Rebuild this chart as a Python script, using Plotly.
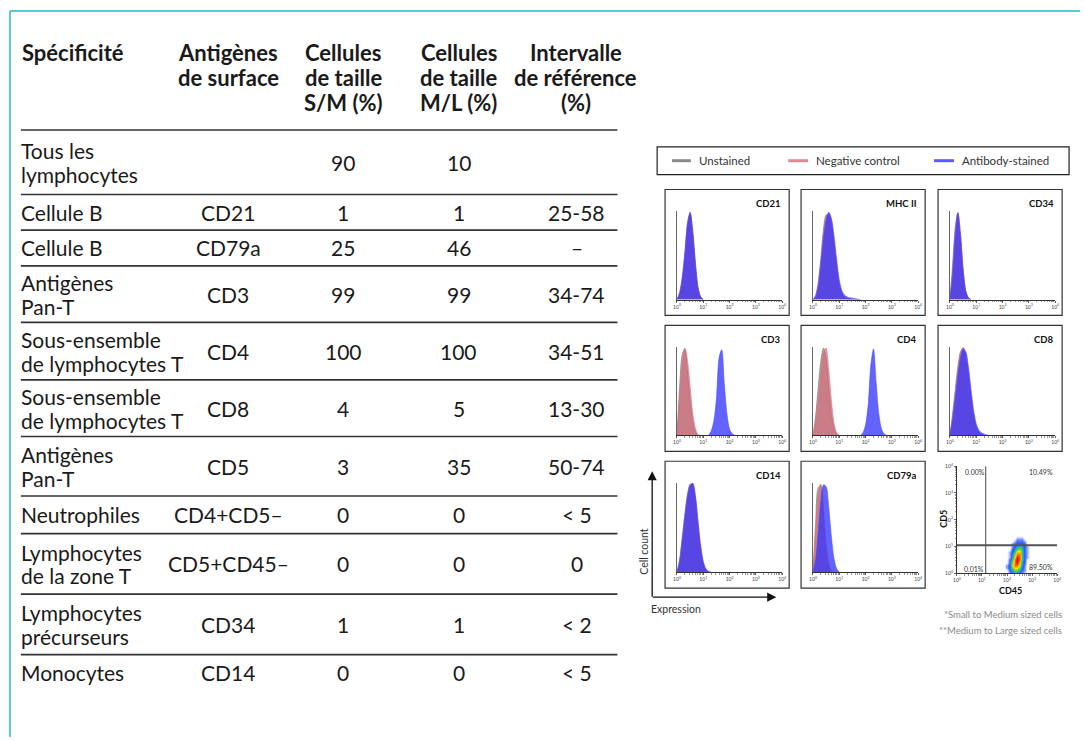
import math
import plotly.graph_objects as go

W, H = 1084, 740
FONT = "Lato"

# ---------------- table data ----------------
HEADERS = [["Spécificité"], ["Antigènes", "de surface"], ["Cellules", "de taille", "S/M (%)"],
           ["Cellules", "de taille", "M/L (%)"], ["Intervalle", "de référence", "(%)"]]
SPECIFICITE = [["Tous les", "lymphocytes"], ["Cellule B"], ["Cellule B"], ["Antigènes", "Pan-T"],
               ["Sous-ensemble", "de lymphocytes T"], ["Sous-ensemble", "de lymphocytes T"],
               ["Antigènes", "Pan-T"], ["Neutrophiles"], ["Lymphocytes", "de la zone T"],
               ["Lymphocytes", "précurseurs"], ["Monocytes"]]
ANTIGENES = ["", "CD21", "CD79a", "CD3", "CD4", "CD8", "CD5", "CD4+CD5–", "CD5+CD45–", "CD34", "CD14"]
SM_PCT = ["90", "1", "25", "99", "100", "4", "3", "0", "0", "1", "0"]
ML_PCT = ["10", "1", "46", "99", "100", "5", "35", "0", "0", "1", "0"]
REF_RANGE = ["", "25-58", "–", "34-74", "34-51", "13-30", "50-74", "< 5", "0", "< 2", "< 5"]

# ---------------- histogram data (x = log10 expression, y = relative count) ----------------
CD21_X = [0.0, 0.1, 0.2, 0.3, 0.4, 0.5, 0.6, 0.7, 0.8, 0.9, 1.0]
CD21_UNST = [0, 6, 20, 48, 82, 97, 78, 42, 14, 3, 0]
CD21_NEG = [0, 9, 26, 55, 88, 98, 72, 38, 12, 2, 0]
CD21_AB = [0, 7, 24, 52, 86, 99, 76, 40, 13, 3, 0]

MHC_X = [0.0, 0.1, 0.2, 0.3, 0.4, 0.5, 0.6, 0.7, 0.8, 0.9, 1.0, 1.1, 1.2, 1.3, 1.4, 1.5, 1.6, 1.7, 1.8]
MHC_UNST = [0, 5, 20, 48, 80, 96, 95, 82, 58, 32, 14, 5, 2, 1, 0, 0, 0, 0, 0]
MHC_NEG = [0, 4, 17, 43, 74, 93, 98, 88, 66, 40, 18, 7, 3, 1, 0.5, 0, 0, 0, 0]
MHC_AB = [0, 3, 15, 40, 70, 90, 99, 92, 72, 45, 22, 10, 5, 3, 2, 1.5, 1, 0.5, 0]

CD34_X = [0.0, 0.1, 0.2, 0.3, 0.4, 0.5, 0.6, 0.7, 0.8]
CD34_UNST = [0, 40, 82, 98, 65, 28, 8, 1, 0]
CD34_NEG = [0, 30, 75, 99, 75, 35, 10, 2, 0]
CD34_AB = [0, 28, 72, 98, 74, 34, 10, 2, 0]

CD3_XLOW = [0.0, 0.1, 0.2, 0.3, 0.4, 0.5, 0.6, 0.7, 0.8, 0.9]
CD3_UNST = [0, 55, 92, 98, 72, 40, 16, 4, 0, 0]
CD3_NEG = [0, 42, 80, 99, 85, 55, 25, 8, 1, 0]
CD3_XHIGH = [1.2, 1.3, 1.4, 1.5, 1.6, 1.7, 1.8, 1.9, 2.0, 2.1, 2.2]
CD3_AB = [0, 5, 16, 42, 88, 97, 58, 24, 7, 2, 0]

CD4_XLOW = [0.0, 0.1, 0.2, 0.3, 0.4, 0.5, 0.6, 0.7, 0.8, 0.9, 1.0]
CD4_UNST = [0, 22, 55, 85, 99, 88, 55, 25, 8, 1, 0]
CD4_NEG = [0, 14, 40, 70, 94, 99, 74, 40, 14, 3, 0]
CD4_XHIGH = [1.8, 1.9, 2.0, 2.1, 2.2, 2.3, 2.4, 2.5, 2.6, 2.7, 2.8]
CD4_AB = [0, 3, 12, 35, 80, 98, 60, 25, 8, 2, 0]

CD8_X = [0.0, 0.1, 0.2, 0.3, 0.4, 0.5, 0.6, 0.7, 0.8, 0.9, 1.0, 1.1, 1.2, 1.3, 1.4, 1.5]
CD8_UNST = [0, 25, 52, 78, 95, 99, 88, 65, 40, 20, 8, 3, 1, 0, 0, 0]
CD8_NEG = [0, 20, 45, 72, 92, 100, 92, 72, 46, 24, 10, 4, 1, 0, 0, 0]
CD8_AB = [0, 18, 42, 68, 88, 98, 95, 78, 52, 28, 13, 6, 3, 1.5, 0.5, 0]

CD14_X = [0.0, 0.1, 0.2, 0.3, 0.4, 0.5, 0.6, 0.7, 0.8, 0.9, 1.0, 1.1, 1.2, 1.3]
CD14_UNST = [0, 15, 40, 66, 88, 99, 96, 78, 48, 22, 8, 2, 0, 0]
CD14_NEG = [0, 12, 36, 62, 85, 98, 99, 84, 55, 28, 11, 3, 1, 0]
CD14_AB = [0, 12, 35, 62, 85, 97, 100, 86, 57, 30, 12, 4, 1, 0]

CD79A_X = [0.0, 0.1, 0.2, 0.3, 0.4, 0.5, 0.6, 0.7, 0.8, 0.9, 1.0]
CD79A_UNST = [0, 55, 95, 97, 58, 22, 6, 1, 0, 0, 0]
CD79A_NEG = [0, 42, 86, 99, 70, 32, 10, 2, 0, 0, 0]
CD79A_AB = [0, 14, 45, 80, 98, 96, 72, 40, 15, 4, 0]

# ---------------- CD5 vs CD45 density ----------------
CD45_GRID = [2.0, 2.1, 2.2, 2.3, 2.4, 2.5, 2.6, 2.7, 2.8, 2.9]
CD5_GRID = [0.0, 0.1, 0.2, 0.3, 0.4, 0.5, 0.6, 0.7, 0.8, 0.9, 1.0, 1.1, 1.2, 1.3, 1.4]
DENSITY = [
    [0, 1, 2, 3, 3, 2, 1, 0, 0, 0],
    [0, 2, 4, 6, 6, 4, 2, 1, 0, 0],
    [1, 3, 6, 8, 8, 6, 3, 1, 0, 0],
    [1, 3, 7, 9, 9, 7, 4, 1, 0, 0],
    [0, 2, 6, 9, 10, 8, 4, 2, 0, 0],
    [0, 2, 5, 9, 10, 9, 5, 2, 0, 0],
    [0, 1, 4, 8, 10, 9, 5, 2, 1, 0],
    [0, 1, 3, 7, 9, 9, 5, 2, 1, 0],
    [0, 1, 2, 5, 8, 8, 5, 2, 1, 0],
    [0, 0, 2, 4, 6, 7, 5, 2, 1, 0],
    [0, 0, 1, 3, 4, 5, 4, 2, 1, 0],
    [0, 0, 1, 2, 3, 3, 3, 2, 0, 0],
    [0, 0, 0, 1, 2, 2, 2, 1, 0, 0],
    [0, 0, 0, 0, 1, 1, 1, 0, 0, 0],
    [0, 0, 0, 0, 0, 0, 0, 0, 0, 0],
]
CD45_GATE = 1.15
CD5_GATE = 1.05
QUAD_LABELS = ["0.00%", "10.49%", "0.01%", "89.50%"]
DECADE_LABELS = ["10<sup>0</sup>", "10<sup>1</sup>", "10<sup>2</sup>", "10<sup>3</sup>", "10<sup>4</sup>"]

LEGEND_NAMES = ["Unstained", "Negative control", "Antibody-stained"]
FOOTNOTES = ["*Small to Medium sized cells", "**Medium to Large sized cells"]

# ---------------- styles ----------------
SERIES_LINE = ["#6e6e6e", "#d8707c", "#4a4aff"]
SERIES_FILL = ["rgba(120,105,105,0.55)", "rgba(215,95,110,0.62)", "rgba(55,55,255,0.78)"]
LEGEND_LINE = ["#8a8a8a", "#e08a96", "#5b5bff"]
TXT = "#1a1a1a"


def X(p):
    return p / W


def Y(p):
    return 1 - p / H


fig = go.Figure()
annotations = []
shapes = []

# ---------------- table ----------------
HEADER_X = [16, 226, 342, 458, 576]
HEADER_ANCHOR = ["left", "center", "center", "center", "center"]
HEADER_LINE_Y = [50, 75, 100]
COL_X = [15, 226, 342, 458, 577]
SEPS = [128, 193, 229, 265, 322, 380, 437, 497, 535, 596, 657]
LAST_CENTER = 675
LINE_GAP = 12

for ci, lines in enumerate(HEADERS):
    for li, t in enumerate(lines):
        annotations.append(dict(x=X(HEADER_X[ci]), y=Y(HEADER_LINE_Y[li]), xref="paper", yref="paper",
                                text="<b>" + t + "</b>", showarrow=False, xanchor=HEADER_ANCHOR[ci],
                                yanchor="middle", font=dict(family=FONT, size=22, color=TXT)))

for s in SEPS:
    shapes.append(dict(type="line", xref="paper", yref="paper", x0=X(17), x1=X(618), y0=Y(s), y1=Y(s),
                       line=dict(color="#333333", width=1.6)))

for ri in range(len(SPECIFICITE)):
    if ri + 1 < len(SEPS):
        cy = (SEPS[ri] + SEPS[ri + 1]) / 2
    else:
        cy = LAST_CENTER
    lines = SPECIFICITE[ri]
    n = len(lines)
    for li, t in enumerate(lines):
        ly = cy + (li - (n - 1) / 2) * 2 * LINE_GAP
        annotations.append(dict(x=X(COL_X[0]), y=Y(ly), xref="paper", yref="paper", text=t,
                                showarrow=False, xanchor="left", yanchor="middle",
                                font=dict(family=FONT, size=21, color=TXT)))
    for ci, col in enumerate([ANTIGENES, SM_PCT, ML_PCT, REF_RANGE]):
        if col[ri]:
            annotations.append(dict(x=X(COL_X[ci + 1]), y=Y(cy), xref="paper", yref="paper", text=col[ri],
                                    showarrow=False, xanchor="center", yanchor="middle",
                                    font=dict(family=FONT, size=21, color=TXT)))

# ---------------- frame ----------------
shapes.append(dict(type="line", xref="paper", yref="paper", x0=X(6), x1=X(1084), y0=Y(8), y1=Y(8),
                   line=dict(color="#5cc8d8", width=2)))
shapes.append(dict(type="line", xref="paper", yref="paper", x0=X(6), x1=X(6), y0=Y(8), y1=Y(740),
                   line=dict(color="#5cc8d8", width=2)))

# ---------------- legend ----------------
shapes.append(dict(type="rect", xref="paper", yref="paper", x0=X(658), x1=X(1073), y0=Y(145), y1=Y(173),
                   line=dict(color="#222222", width=1.2)))
LEG_LINE_X = [(673, 692), (790, 810), (937, 957)]
for i, name in enumerate(LEGEND_NAMES):
    a, b = LEG_LINE_X[i]
    shapes.append(dict(type="line", xref="paper", yref="paper", x0=X(a), x1=X(b), y0=Y(159), y1=Y(159),
                       line=dict(color=LEGEND_LINE[i], width=3)))
    annotations.append(dict(x=X(b + 6), y=Y(159), xref="paper", yref="paper", text=name, showarrow=False,
                            xanchor="left", yanchor="middle", font=dict(family=FONT, size=11.5, color="#333")))

# ---------------- histogram panels ----------------
PANELS = [
    ("CD21", [(CD21_X, CD21_UNST), (CD21_X, CD21_NEG), (CD21_X, CD21_AB)]),
    ("MHC II", [(MHC_X, MHC_UNST), (MHC_X, MHC_NEG), (MHC_X, MHC_AB)]),
    ("CD34", [(CD34_X, CD34_UNST), (CD34_X, CD34_NEG), (CD34_X, CD34_AB)]),
    ("CD3", [(CD3_XLOW, CD3_UNST), (CD3_XLOW, CD3_NEG), (CD3_XHIGH, CD3_AB)]),
    ("CD4", [(CD4_XLOW, CD4_UNST), (CD4_XLOW, CD4_NEG), (CD4_XHIGH, CD4_AB)]),
    ("CD8", [(CD8_X, CD8_UNST), (CD8_X, CD8_NEG), (CD8_X, CD8_AB)]),
    ("CD14", [(CD14_X, CD14_UNST), (CD14_X, CD14_NEG), (CD14_X, CD14_AB)]),
    ("CD79a", [(CD79A_X, CD79A_UNST), (CD79A_X, CD79A_NEG), (CD79A_X, CD79A_AB)]),
]
BOX_X = [(666, 791), (803, 928), (941, 1066)]
BOX_Y = [(188, 315), (325, 452), (462, 590)]

minor_vals = [d + math.log10(k) for d in range(4) for k in range(2, 10)]
layout_axes = {}


def axis_common(**kw):
    d = dict(showgrid=False, zeroline=False, fixedrange=True, mirror=False)
    d.update(kw)
    return d


for pi, (title, series) in enumerate(PANELS):
    r, c = divmod(pi, 3)
    bl, br = BOX_X[c]
    bt, bb = BOX_Y[r]
    n = pi + 1
    xa = "x" if n == 1 else "x%d" % n
    ya = "y" if n == 1 else "y%d" % n
    xk = "xaxis" if n == 1 else "xaxis%d" % n
    yk = "yaxis" if n == 1 else "yaxis%d" % n
    layout_axes[xk] = axis_common(domain=[X(bl + 12), X(br - 7)], range=[0, 4], anchor=ya,
                                  showline=True, linecolor="#333", linewidth=1, ticks="outside",
                                  ticklen=2, tickwidth=0.8, tickcolor="#333", tickvals=[0, 1, 2, 3, 4],
                                  ticktext=DECADE_LABELS, tickfont=dict(family=FONT, size=5, color="#444"),
                                  minor=dict(tickvals=minor_vals, ticks="outside", ticklen=1.2,
                                             tickcolor="#555", tickwidth=0.6))
    layout_axes[yk] = axis_common(domain=[Y(bb - 16), Y(bt + 22)], range=[0, 100], anchor=xa,
                                  showline=True, linecolor="#666", linewidth=1, ticks="",
                                  showticklabels=False)
    for si, (xs, ys) in enumerate(series):
        fig.add_trace(go.Scatter(x=xs, y=ys, xaxis=xa, yaxis=ya, mode="lines", fill="tozeroy",
                                 line=dict(color=SERIES_LINE[si], width=0.6, shape="spline", smoothing=0.8),
                                 fillcolor=SERIES_FILL[si], showlegend=False, hoverinfo="skip"))
    shapes.append(dict(type="rect", xref="paper", yref="paper", x0=X(bl), x1=X(br), y0=Y(bb), y1=Y(bt),
                       line=dict(color="#333333", width=1.2), layer="below"))
    annotations.append(dict(x=X(br - 6), y=Y(bt + 14), xref="paper", yref="paper", text="<b>" + title + "</b>",
                            showarrow=False, xanchor="right", yanchor="middle",
                            font=dict(family=FONT, size=9.5, color="#111")))

# ---------------- scatter panel ----------------
layout_axes["xaxis9"] = axis_common(domain=[X(960), X(1061)], range=[0, 4], anchor="y9", showline=True,
                                    linecolor="#333", linewidth=1, ticks="outside", ticklen=2,
                                    tickwidth=0.8, tickvals=[0, 1, 2, 3, 4], ticktext=DECADE_LABELS,
                                    tickfont=dict(family=FONT, size=5, color="#444"),
                                    minor=dict(tickvals=minor_vals, ticks="outside", ticklen=1.2,
                                               tickcolor="#555", tickwidth=0.6))
layout_axes["yaxis9"] = axis_common(domain=[Y(575), Y(467)], range=[0, 4], anchor="x9", showline=True,
                                    linecolor="#333", linewidth=1, ticks="outside", ticklen=2,
                                    tickwidth=0.8, tickvals=[0, 1, 2, 3, 4], ticktext=DECADE_LABELS,
                                    tickfont=dict(family=FONT, size=5, color="#444"),
                                    minor=dict(tickvals=minor_vals, ticks="outside", ticklen=1.2,
                                               tickcolor="#555", tickwidth=0.6))
fig.add_trace(go.Heatmap(x=CD45_GRID, y=CD5_GRID, z=DENSITY, xaxis="x9", yaxis="y9", zmin=0, zmax=10,
                         zsmooth="best", showscale=False, hoverinfo="skip",
                         colorscale=[[0, "rgba(255,255,255,0)"], [0.04, "rgba(185,200,255,0.6)"],
                                     [0.12, "#7088ff"], [0.28, "#2050ff"], [0.42, "#18c0d8"],
                                     [0.55, "#2ec24a"], [0.7, "#c8e020"], [0.8, "#ffd000"],
                                     [0.9, "#ff6a00"], [1.0, "#e80000"]]))
shapes.append(dict(type="line", xref="x9", yref="y9", x0=CD45_GATE, x1=CD45_GATE, y0=0, y1=4,
                   line=dict(color="#444", width=1)))
shapes.append(dict(type="line", xref="x9", yref="y9", x0=0, x1=4, y0=CD5_GATE, y1=CD5_GATE,
                   line=dict(color="#555", width=2)))
QUAD_POS = [(0.25, 3.8, "left"), (3.9, 3.8, "right"), (0.2, 0.18, "left"), (3.9, 0.22, "right")]
for (qx, qy, anc), lab in zip(QUAD_POS, QUAD_LABELS):
    annotations.append(dict(x=qx, y=qy, xref="x9", yref="y9", text=lab, showarrow=False, xanchor=anc,
                            yanchor="middle", font=dict(family=FONT, size=7, color="#333")))
annotations.append(dict(x=X(1014), y=Y(592), xref="paper", yref="paper", text="<b>CD45</b>", showarrow=False,
                        xanchor="center", yanchor="middle", font=dict(family=FONT, size=9, color="#111")))
annotations.append(dict(x=X(947), y=Y(520), xref="paper", yref="paper", text="<b>CD5</b>", showarrow=False,
                        textangle=-90, xanchor="center", yanchor="middle",
                        font=dict(family=FONT, size=9, color="#111")))

# ---------------- cell count / expression arrows ----------------
annotations.append(dict(x=X(653), y=Y(472), xref="paper", yref="paper", ax=0, ay=127, text="",
                        showarrow=True, arrowhead=2, arrowsize=1.4, arrowwidth=1.3, arrowcolor="#111"))
annotations.append(dict(x=X(778), y=Y(599), xref="paper", yref="paper", ax=-125, ay=0, text="",
                        showarrow=True, arrowhead=2, arrowsize=1.4, arrowwidth=1.3, arrowcolor="#111"))
annotations.append(dict(x=X(644), y=Y(553), xref="paper", yref="paper", text="Cell count", showarrow=False,
                        textangle=-90, xanchor="center", yanchor="middle",
                        font=dict(family=FONT, size=10.5, color="#333")))
annotations.append(dict(x=X(650), y=Y(611), xref="paper", yref="paper", text="Expression", showarrow=False,
                        xanchor="left", yanchor="middle", font=dict(family=FONT, size=10.5, color="#333")))

# ---------------- footnotes ----------------
for i, t in enumerate(FOOTNOTES):
    annotations.append(dict(x=X(1068), y=Y(616 + 17 * i), xref="paper", yref="paper", text=t, showarrow=False,
                            xanchor="right", yanchor="middle", font=dict(family=FONT, size=9.5, color="#8a8a8a")))

fig.update_layout(width=W, height=H, margin=dict(l=0, r=0, t=0, b=0), paper_bgcolor="white",
                  plot_bgcolor="rgba(0,0,0,0)", showlegend=False, annotations=annotations, shapes=shapes,
                  **layout_axes)
fig.write_html("out.html", config={"displayModeBar": False, "staticPlot": True},
               post_script="document.body.style.margin='0px';document.body.style.overflow='hidden';")
